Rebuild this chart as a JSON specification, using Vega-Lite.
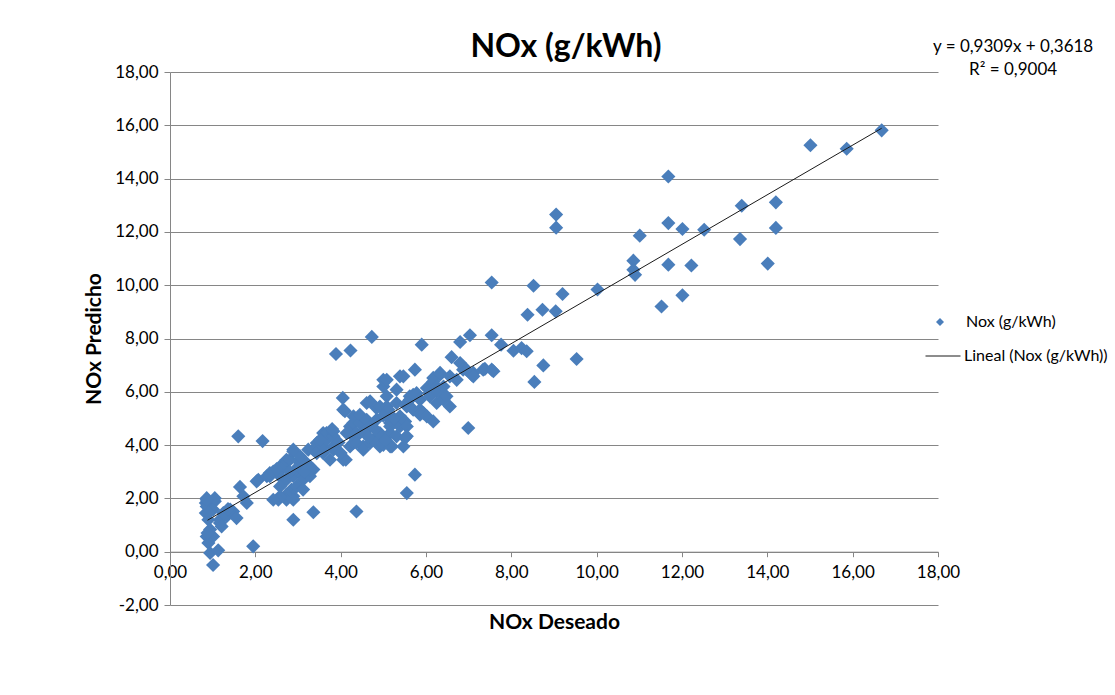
{
  "$schema": "https://vega.github.io/schema/vega-lite/v6.json",
  "width": 768,
  "height": 533,
  "autosize": "none",
  "padding": {"left": 170, "top": 72, "right": 177, "bottom": 90},
  "background": "white",
  "config": {
    "locale": {"number": {"decimal": ",", "thousands": ".", "grouping": [3], "currency": ["", "€"], "minus": "-"}},
    "font": "Lato",
    "view": {"stroke": null},
    "legend": {"labelFont": "Lato", "labelFontSize": 16, "labelColor": "#000000", "padding": 0}
  },
  "title": {"text": "NOx (g/kWh)", "fontSize": 32, "font": "Lato", "fontWeight": "bold", "color": "#000000", "anchor": "middle", "offset": -26, "dx": 12},
  "layer": [
    {
      "data": {"values": [
        {"d":0.84,"p":1.83},{"d":0.86,"p":2.01},{"d":1.05,"p":1.89},{"d":0.94,"p":1.58},{"d":0.84,"p":1.45},{"d":0.9,"p":1.2},{"d":1.17,"p":1.2},{"d":1.33,"p":1.33},{"d":1.48,"p":1.51},{"d":1.64,"p":2.43},{"d":1.72,"p":2.08},{"d":1.8,"p":1.83},{"d":1.56,"p":1.26},{"d":0.94,"p":0.83},{"d":0.86,"p":0.57},{"d":1.01,"p":0.57},{"d":0.9,"p":0.33},{"d":0.94,"p":-0.05},{"d":1.13,"p":0.05},{"d":1.01,"p":-0.5},{"d":1.95,"p":0.2},{"d":2.03,"p":2.64},{"d":1.6,"p":4.33},{"d":2.17,"p":4.15},{"d":0.86,"p":1.7},{"d":1.01,"p":1.58},{"d":1.17,"p":1.08},{"d":1.21,"p":0.95},{"d":0.88,"p":0.7},{"d":1.41,"p":1.58},{"d":1.05,"p":2.01},{"d":0.86,"p":1.95},{"d":0.9,"p":1.45},{"d":1.25,"p":1.45},{"d":1.36,"p":1.6},
        {"d":2.07,"p":2.7},{"d":2.27,"p":2.83},{"d":2.34,"p":2.83},{"d":2.34,"p":2.95},{"d":2.42,"p":3.01},{"d":2.58,"p":3.2},{"d":2.66,"p":3.2},{"d":2.73,"p":3.45},{"d":2.81,"p":3.45},{"d":2.89,"p":3.76},{"d":2.89,"p":3.83},{"d":3.05,"p":3.33},{"d":3.05,"p":3.45},{"d":3.2,"p":3.2},{"d":3.28,"p":3.2},{"d":3.36,"p":3.08},{"d":3.24,"p":3.83},{"d":3.44,"p":4.08},{"d":2.58,"p":2.83},{"d":2.66,"p":2.7},{"d":2.73,"p":2.7},{"d":2.89,"p":2.83},{"d":3.05,"p":2.95},{"d":3.12,"p":2.7},{"d":3.28,"p":2.83},{"d":2.58,"p":2.45},{"d":2.85,"p":2.33},{"d":2.97,"p":2.45},{"d":3.12,"p":2.33},{"d":2.89,"p":2.08},{"d":2.73,"p":2.14},{"d":2.73,"p":1.95},{"d":2.58,"p":2.08},{"d":2.54,"p":1.95},{"d":2.42,"p":1.95},{"d":2.89,"p":1.95},{"d":2.89,"p":1.2},{"d":3.36,"p":1.48},{"d":3.2,"p":3.33},{"d":3.28,"p":3.08},{"d":3.05,"p":3.58},{"d":3.36,"p":3.83},{"d":3.44,"p":3.7},{"d":2.5,"p":3.1},{"d":2.95,"p":3.1},{"d":3.15,"p":3.0},{"d":2.8,"p":3.0},
        {"d":3.59,"p":3.7},{"d":3.59,"p":3.95},{"d":3.59,"p":4.45},{"d":3.67,"p":4.45},{"d":3.67,"p":4.2},{"d":3.52,"p":4.2},{"d":3.75,"p":3.45},{"d":3.83,"p":3.95},{"d":3.83,"p":4.33},{"d":3.83,"p":4.52},{"d":3.8,"p":4.6},{"d":3.83,"p":3.83},{"d":4.06,"p":3.45},{"d":4.12,"p":3.45},{"d":4.05,"p":5.77},{"d":4.1,"p":5.27},{"d":4.06,"p":5.33},{"d":4.22,"p":4.45},{"d":4.22,"p":4.7},{"d":4.14,"p":4.45},{"d":4.3,"p":4.83},{"d":4.37,"p":4.33},{"d":4.37,"p":4.45},{"d":4.22,"p":3.95},{"d":4.3,"p":4.08},{"d":4.3,"p":5.08},{"d":4.37,"p":4.08},{"d":4.37,"p":1.51},{"d":4.45,"p":4.83},{"d":4.45,"p":5.14},{"d":4.53,"p":3.95},{"d":4.53,"p":3.83},{"d":3.89,"p":7.42},{"d":4.23,"p":7.55},{"d":4.73,"p":8.06},{"d":3.95,"p":4.1},{"d":4.0,"p":3.7},
        {"d":4.61,"p":4.95},{"d":4.61,"p":5.58},{"d":4.69,"p":4.7},{"d":4.69,"p":5.64},{"d":4.69,"p":4.08},{"d":4.77,"p":4.2},{"d":4.84,"p":4.95},{"d":4.84,"p":5.39},{"d":4.92,"p":5.45},{"d":4.92,"p":4.45},{"d":4.92,"p":3.95},{"d":5.0,"p":4.01},{"d":5.0,"p":6.2},{"d":5.0,"p":6.45},{"d":5.08,"p":6.45},{"d":5.08,"p":5.83},{"d":5.08,"p":5.45},{"d":5.12,"p":5.33},{"d":5.16,"p":4.83},{"d":5.16,"p":4.7},{"d":5.16,"p":4.95},{"d":5.16,"p":4.45},{"d":5.16,"p":3.95},{"d":5.2,"p":3.95},{"d":5.31,"p":6.08},{"d":5.31,"p":5.58},{"d":5.31,"p":4.33},{"d":5.39,"p":6.58},{"d":5.39,"p":5.08},{"d":5.39,"p":4.83},{"d":5.39,"p":4.7},{"d":5.47,"p":3.95},{"d":5.47,"p":6.58},{"d":5.51,"p":4.89},{"d":5.51,"p":4.27},{"d":5.55,"p":5.45},{"d":5.55,"p":4.7},{"d":5.55,"p":4.33},{"d":5.55,"p":5.58},{"d":5.55,"p":2.2},{"d":4.55,"p":4.5},{"d":4.65,"p":4.3},{"d":4.8,"p":4.6},{"d":5.05,"p":4.2},{"d":5.25,"p":5.0},{"d":5.0,"p":5.1},
        {"d":5.62,"p":5.83},{"d":5.62,"p":5.7},{"d":5.7,"p":5.89},{"d":5.7,"p":5.33},{"d":5.74,"p":6.83},{"d":5.74,"p":2.89},{"d":5.78,"p":5.95},{"d":5.86,"p":5.7},{"d":5.86,"p":5.33},{"d":5.86,"p":5.14},{"d":5.9,"p":7.77},{"d":5.94,"p":5.2},{"d":6.02,"p":6.14},{"d":6.02,"p":5.08},{"d":6.09,"p":5.95},{"d":6.09,"p":6.08},{"d":6.09,"p":5.83},{"d":6.17,"p":6.52},{"d":6.17,"p":6.39},{"d":6.17,"p":4.89},{"d":6.25,"p":6.2},{"d":6.25,"p":5.58},{"d":6.25,"p":6.02},{"d":6.33,"p":6.64},{"d":6.33,"p":6.71},{"d":6.41,"p":5.83},{"d":6.41,"p":6.2},{"d":6.41,"p":5.7},{"d":6.48,"p":5.83},{"d":6.56,"p":5.45},{"d":6.56,"p":6.58},{"d":6.6,"p":7.3},{"d":6.72,"p":6.45},{"d":6.8,"p":7.87},{"d":6.8,"p":7.08},{"d":6.87,"p":6.83},{"d":6.95,"p":6.83},{"d":6.99,"p":4.64},
        {"d":7.03,"p":8.12},{"d":7.07,"p":6.64},{"d":7.11,"p":6.71},{"d":7.11,"p":6.58},{"d":7.34,"p":6.83},{"d":7.38,"p":6.86},{"d":7.54,"p":8.12},{"d":7.54,"p":10.1},{"d":7.54,"p":6.83},{"d":7.58,"p":6.77},{"d":7.76,"p":7.77},{"d":8.05,"p":7.54},{"d":8.24,"p":7.64},{"d":8.36,"p":7.52},{"d":8.38,"p":8.89},{"d":8.52,"p":9.98},{"d":8.54,"p":6.37},{"d":8.73,"p":9.08},{"d":8.75,"p":6.99},{"d":9.04,"p":9.02},{"d":9.05,"p":12.65},{"d":9.05,"p":12.16},{"d":9.2,"p":9.67},{"d":9.53,"p":7.23},{"d":10.02,"p":9.84},{"d":10.86,"p":10.92},{"d":10.86,"p":10.58},{"d":10.9,"p":10.39},{"d":11.01,"p":11.86},{"d":11.52,"p":9.2},{"d":11.68,"p":14.08},{"d":11.68,"p":12.33},{"d":11.68,"p":10.77},{"d":12.01,"p":12.11},{"d":12.01,"p":9.62},{"d":12.22,"p":10.74},{"d":12.52,"p":12.08},{"d":13.36,"p":11.73},{"d":13.4,"p":12.98},{"d":14.01,"p":10.81},{"d":14.2,"p":13.11},{"d":14.2,"p":12.15},{"d":15.01,"p":15.25},{"d":15.86,"p":15.12},{"d":16.68,"p":15.81}
      ]},
      "mark": {"type": "point", "filled": true, "shape": "diamond", "size": 200, "color": "#4a7ebb", "opacity": 1, "strokeWidth": 0},
      "encoding": {
        "x": {"field": "d", "type": "quantitative", "scale": {"domain": [0, 18], "nice": false, "zero": false},
              "axis": {"values": [0,2,4,6,8,10,12,14,16,18], "format": ".2f", "grid": false, "offset": -53.3,
                       "domainColor": "#868686", "tickColor": "#868686", "tickSize": 5, "labelFontSize": 17, "labelColor": "#000000",
                       "labelPadding": 8, "labelFlush": false, "labelOverlap": false, "labelFont": "Lato",
                       "title": "NOx Deseado", "titleFont": "Lato", "titleFontSize": 21, "titleFontWeight": "bold", "titleColor": "#000000", "titlePadding": 31}},
        "y": {"field": "p", "type": "quantitative", "scale": {"domain": [-2, 18], "nice": false, "zero": false},
              "axis": {"values": [-2,0,2,4,6,8,10,12,14,16,18], "format": ".2f", "grid": true, "gridColor": "#868686", "gridOpacity": 1,
                       "domainColor": "#868686", "tickColor": "#868686", "tickSize": 6, "labelFontSize": 17, "labelColor": "#000000",
                       "labelPadding": 6, "labelFont": "Lato", "labelFlush": false, "labelOverlap": false,
                       "title": "NOx Predicho", "titleFont": "Lato", "titleFontSize": 21, "titleFontWeight": "bold", "titleColor": "#000000", "titlePadding": 10}},
        "shape": {"datum": "Nox (g/kWh)", "scale": {"range": ["diamond"]},
                  "legend": {"title": null, "orient": "none", "legendX": 762, "legendY": 242, "symbolSize": 64,
                             "symbolFillColor": "#4a7ebb", "symbolStrokeColor": "#4a7ebb", "symbolStrokeWidth": 0, "symbolOpacity": 1, "labelOffset": 18}}
      }
    },
    {
      "data": {"values": [{"d": 0.88, "p": 1.181}, {"d": 16.68, "p": 15.889}]},
      "mark": {"type": "line", "color": "#1a1a1a", "strokeWidth": 1},
      "encoding": {
        "x": {"field": "d", "type": "quantitative"},
        "y": {"field": "p", "type": "quantitative"},
        "color": {"datum": "Lineal (Nox (g/kWh))", "scale": {"range": ["#1a1a1a"]},
                  "legend": {"title": null, "orient": "none", "legendX": 755, "legendY": 266, "symbolType": "stroke", "symbolSize": 1225,
                             "symbolStrokeWidth": 1, "symbolStrokeColor": "#1a1a1a", "labelOffset": 3}}
      }
    },
    {
      "data": {"values": [{"eq": "y = 0,9309x + 0,3618\nR² = 0,9004"}]},
      "mark": {"type": "text", "lineBreak": "\n", "lineHeight": 23, "align": "center", "baseline": "middle", "fontSize": 17, "font": "Lato", "color": "#000000"},
      "encoding": {
        "x": {"datum": 19.76, "type": "quantitative"},
        "y": {"datum": 18.95, "type": "quantitative"},
        "text": {"field": "eq"}
      }
    }
  ]
}
